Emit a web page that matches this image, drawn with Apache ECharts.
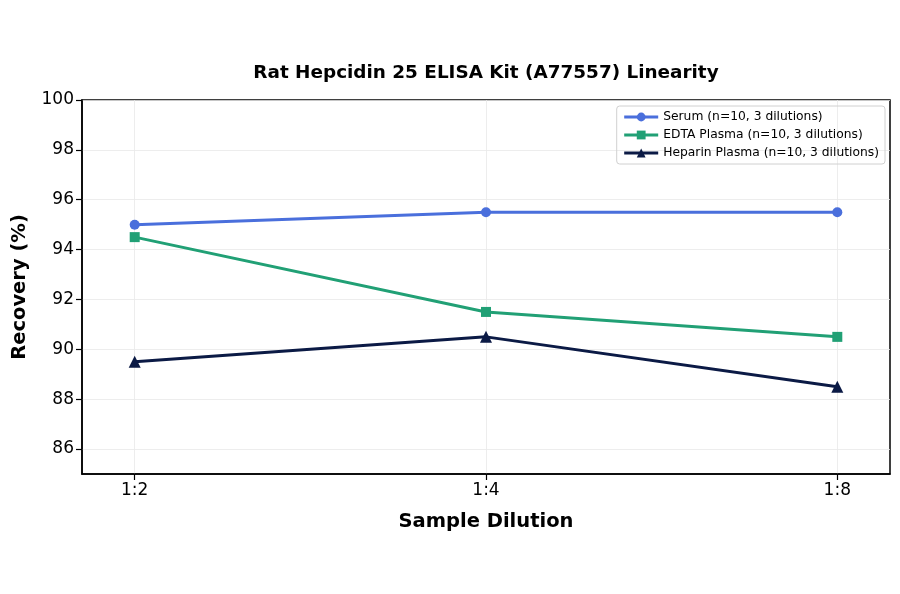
<!DOCTYPE html>
<html>
<head>
<meta charset="utf-8">
<script src="https://cdn.jsdelivr.net/npm/echarts@6/dist/echarts.min.js"></script>
<style>
  html, body { margin: 0; padding: 0; background: #fff; }
  #chart { width: 900px; height: 594px; }
</style>
</head>
<body>
<div id="chart"></div>
<script>
// categories (sample dilutions)
const dilutions = ["1:2", "1:4", "1:8"];
// recovery values (%)
const serum = [95.0, 95.5, 95.5];
const edtaPlasma = [94.5, 91.5, 90.5];
const heparinPlasma = [89.5, 90.5, 88.5];
const seriesNames = [
  "Serum (n=10, 3 dilutions)",
  "EDTA Plasma (n=10, 3 dilutions)",
  "Heparin Plasma (n=10, 3 dilutions)"
];
const yTicks = [86, 88, 90, 92, 94, 96, 98, 100];

const font = "DejaVu Sans";

// turn a value list into [x, y] pairs on the category index
function pairs(vals) {
  return vals.map((v, i) => [i, v]);
}

function makeLine(name, vals, color, symbol) {
  return {
    name: name,
    type: "line",
    data: pairs(vals),
    symbol: symbol,
    symbolSize: symbol === "triangle" ? 12 : 10,
    lineStyle: { color: color, width: 3 },
    itemStyle: { color: color },
    emphasis: { disabled: true }
  };
}

const chart = echarts.init(document.getElementById("chart"));
chart.setOption({
  animation: false,
  backgroundColor: "#fff",
  title: {
    text: "Rat Hepcidin 25 ELISA Kit (A77557) Linearity",
    left: 481,
    textAlign: "center",
    top: 59,
    textStyle: { fontFamily: font, fontSize: 18.4, fontWeight: "bold", color: "#000" }
  },
  legend: {
    orient: "vertical",
    right: 15,
    top: 106,
    itemWidth: 34,
    itemHeight: 11,
    itemGap: 6,
    padding: [5, 6, 5, 6],
    borderColor: "#d0d0d0",
    borderWidth: 1,
    borderRadius: 3,
    lineStyle: { width: 3 },
    textStyle: { fontFamily: font, fontSize: 12.3, color: "#000" },
    data: seriesNames
  },
  grid: {
    left: 82,
    right: 10,
    top: 100,
    bottom: 120,
    outerBoundsMode: "none",
    containLabel: false,
    show: true,
    borderColor: "#000",
    borderWidth: 1.5
  },
  xAxis: {
    type: "value",
    min: -0.15,
    max: 2.15,
    name: "Sample Dilution",
    nameLocation: "middle",
    nameGap: 38,
    nameTextStyle: { fontFamily: font, fontSize: 19.5, fontWeight: "bold", color: "#000" },
    axisLine: { show: true, onZero: false, lineStyle: { color: "#000", width: 1.5 } },
    axisTick: { show: true, customValues: [0, 1, 2], length: 6, lineStyle: { color: "#000", width: 1.2 } },
    axisLabel: {
      customValues: [0, 1, 2],
      formatter: v => dilutions[Math.round(v)],
      fontFamily: font, fontSize: 17, color: "#000", margin: 8
    },
    splitLine: { show: true, lineStyle: { color: "#e8e8e8", width: 0.8 } }
  },
  yAxis: {
    type: "value",
    min: 85,
    max: 100,
    name: "Recovery (%)",
    nameLocation: "middle",
    nameGap: 52,
    nameTextStyle: { fontFamily: font, fontSize: 19.5, fontWeight: "bold", color: "#000" },
    axisLine: { show: true, onZero: false, lineStyle: { color: "#000", width: 1.5 } },
    axisTick: { show: true, customValues: yTicks, length: 6, lineStyle: { color: "#000", width: 1.2 } },
    axisLabel: {
      customValues: yTicks,
      fontFamily: font, fontSize: 17, color: "#000", margin: 8
    },
    splitLine: { show: true, lineStyle: { color: "#e8e8e8", width: 0.8 } }
  },
  series: [
    makeLine(seriesNames[0], serum, "#4a6fdc", "circle"),
    makeLine(seriesNames[1], edtaPlasma, "#21a075", "rect"),
    makeLine(seriesNames[2], heparinPlasma, "#0b1a45", "triangle")
  ]
});
</script>
</body>
</html>
